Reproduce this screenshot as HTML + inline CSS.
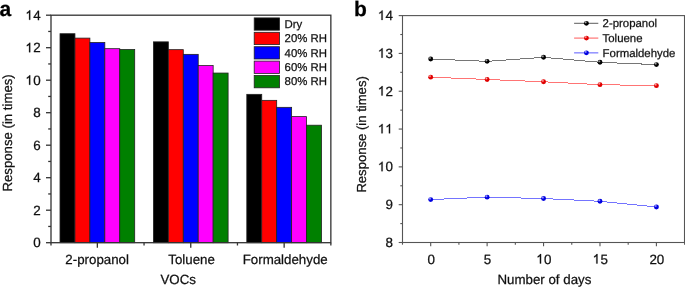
<!DOCTYPE html><html><head><meta charset="utf-8"><style>html,body{margin:0;padding:0;background:#fff;}svg{display:block;will-change:transform;}text{font-family:"Liberation Sans", sans-serif;fill:#111;stroke:#111;stroke-width:0.25px;text-rendering:geometricPrecision;}</style></head><body>
<svg width="685" height="287" viewBox="0 0 685 287">
<defs>
<radialGradient id="gk" cx="0.35" cy="0.3" r="0.7"><stop offset="0" stop-color="#bbbbbb"/><stop offset="0.45" stop-color="#000000"/><stop offset="1" stop-color="#000000"/></radialGradient>
<radialGradient id="gr" cx="0.35" cy="0.3" r="0.7"><stop offset="0" stop-color="#ffbbbb"/><stop offset="0.45" stop-color="#e00000"/><stop offset="1" stop-color="#e00000"/></radialGradient>
<radialGradient id="gb" cx="0.35" cy="0.3" r="0.7"><stop offset="0" stop-color="#bbbbff"/><stop offset="0.45" stop-color="#0000e0"/><stop offset="1" stop-color="#0000e0"/></radialGradient>
</defs>
<rect width="685" height="287" fill="#fff"/>
<rect x="60.00" y="33.72" width="14.94" height="208.97" fill="#000000" stroke="#222" stroke-width="0.8"/>
<rect x="74.94" y="38.11" width="14.94" height="204.59" fill="#ff0000" stroke="#222" stroke-width="0.8"/>
<rect x="89.88" y="42.50" width="14.94" height="200.20" fill="#0000ff" stroke="#222" stroke-width="0.8"/>
<rect x="104.82" y="48.67" width="14.94" height="194.03" fill="#ff00ff" stroke="#222" stroke-width="0.8"/>
<rect x="119.76" y="49.49" width="14.94" height="193.21" fill="#008000" stroke="#222" stroke-width="0.8"/>
<rect x="153.40" y="41.85" width="14.94" height="200.85" fill="#000000" stroke="#222" stroke-width="0.8"/>
<rect x="168.34" y="49.65" width="14.94" height="193.05" fill="#ff0000" stroke="#222" stroke-width="0.8"/>
<rect x="183.28" y="54.36" width="14.94" height="188.34" fill="#0000ff" stroke="#222" stroke-width="0.8"/>
<rect x="198.22" y="65.57" width="14.94" height="177.12" fill="#ff00ff" stroke="#222" stroke-width="0.8"/>
<rect x="213.16" y="73.05" width="14.94" height="169.65" fill="#008000" stroke="#222" stroke-width="0.8"/>
<rect x="246.80" y="94.34" width="14.94" height="148.36" fill="#000000" stroke="#222" stroke-width="0.8"/>
<rect x="261.74" y="100.35" width="14.94" height="142.35" fill="#ff0000" stroke="#222" stroke-width="0.8"/>
<rect x="276.68" y="107.34" width="14.94" height="135.36" fill="#0000ff" stroke="#222" stroke-width="0.8"/>
<rect x="291.62" y="116.60" width="14.94" height="126.10" fill="#ff00ff" stroke="#222" stroke-width="0.8"/>
<rect x="306.56" y="125.21" width="14.94" height="117.49" fill="#008000" stroke="#222" stroke-width="0.8"/>
<rect x="51.00" y="15.20" width="279.85" height="227.50" fill="none" stroke="#333333" stroke-width="1.30"/>
<line x1="46.00" y1="242.70" x2="51.00" y2="242.70" stroke="#333333" stroke-width="1.30"/>
<text x="33.15" y="247.25" font-size="13.40">0</text>
<line x1="48.20" y1="226.45" x2="51.00" y2="226.45" stroke="#333333" stroke-width="1.30"/>
<line x1="46.00" y1="210.20" x2="51.00" y2="210.20" stroke="#333333" stroke-width="1.30"/>
<text x="33.15" y="214.75" font-size="13.40">2</text>
<line x1="48.20" y1="193.95" x2="51.00" y2="193.95" stroke="#333333" stroke-width="1.30"/>
<line x1="46.00" y1="177.70" x2="51.00" y2="177.70" stroke="#333333" stroke-width="1.30"/>
<text x="33.15" y="182.25" font-size="13.40">4</text>
<line x1="48.20" y1="161.45" x2="51.00" y2="161.45" stroke="#333333" stroke-width="1.30"/>
<line x1="46.00" y1="145.20" x2="51.00" y2="145.20" stroke="#333333" stroke-width="1.30"/>
<text x="33.15" y="149.75" font-size="13.40">6</text>
<line x1="48.20" y1="128.95" x2="51.00" y2="128.95" stroke="#333333" stroke-width="1.30"/>
<line x1="46.00" y1="112.70" x2="51.00" y2="112.70" stroke="#333333" stroke-width="1.30"/>
<text x="33.15" y="117.25" font-size="13.40">8</text>
<line x1="48.20" y1="96.45" x2="51.00" y2="96.45" stroke="#333333" stroke-width="1.30"/>
<line x1="46.00" y1="80.20" x2="51.00" y2="80.20" stroke="#333333" stroke-width="1.30"/>
<path d="M.338 0L.25 0L.25-.55C.215-.515.14-.475.085-.455L.085-.54C.17-.575.245-.635.275-.703L.338-.703Z" transform="translate(25.70,84.75) scale(13.400)" fill="#111" stroke="#111" stroke-width="0.0187"/><text x="33.15" y="84.75" font-size="13.40">0</text>
<line x1="48.20" y1="63.95" x2="51.00" y2="63.95" stroke="#333333" stroke-width="1.30"/>
<line x1="46.00" y1="47.70" x2="51.00" y2="47.70" stroke="#333333" stroke-width="1.30"/>
<path d="M.338 0L.25 0L.25-.55C.215-.515.14-.475.085-.455L.085-.54C.17-.575.245-.635.275-.703L.338-.703Z" transform="translate(25.70,52.25) scale(13.400)" fill="#111" stroke="#111" stroke-width="0.0187"/><text x="33.15" y="52.25" font-size="13.40">2</text>
<line x1="48.20" y1="31.45" x2="51.00" y2="31.45" stroke="#333333" stroke-width="1.30"/>
<line x1="46.00" y1="15.20" x2="51.00" y2="15.20" stroke="#333333" stroke-width="1.30"/>
<path d="M.338 0L.25 0L.25-.55C.215-.515.14-.475.085-.455L.085-.54C.17-.575.245-.635.275-.703L.338-.703Z" transform="translate(25.70,19.75) scale(13.400)" fill="#111" stroke="#111" stroke-width="0.0187"/><text x="33.15" y="19.75" font-size="13.40">4</text>
<line x1="51.00" y1="242.70" x2="51.00" y2="245.50" stroke="#333333" stroke-width="1.30"/>
<line x1="144.05" y1="242.70" x2="144.05" y2="245.50" stroke="#333333" stroke-width="1.30"/>
<line x1="237.45" y1="242.70" x2="237.45" y2="245.50" stroke="#333333" stroke-width="1.30"/>
<line x1="330.85" y1="242.70" x2="330.85" y2="245.50" stroke="#333333" stroke-width="1.30"/>
<line x1="97.35" y1="242.70" x2="97.35" y2="247.70" stroke="#333333" stroke-width="1.30"/>
<text x="97.15" y="263.5" font-size="13.3" text-anchor="middle">2-propanol</text>
<line x1="190.75" y1="242.70" x2="190.75" y2="247.70" stroke="#333333" stroke-width="1.30"/>
<text x="191.60" y="263.5" font-size="13.3" text-anchor="middle">Toluene</text>
<line x1="284.15" y1="242.70" x2="284.15" y2="247.70" stroke="#333333" stroke-width="1.30"/>
<text x="285.20" y="263.5" font-size="13.3" text-anchor="middle">Formaldehyde</text>
<text x="178.2" y="283.6" font-size="13.3" text-anchor="middle">VOCs</text>
<text transform="translate(12.0,132.9) rotate(-90)" font-size="13.2" text-anchor="middle">Response (in times)</text>
<rect x="254.2" y="17.90" width="25.3" height="12.3" fill="#000000" stroke="#222" stroke-width="0.8"/>
<text x="284.6" y="27.75" font-size="11.4">Dry</text>
<rect x="254.2" y="32.30" width="25.3" height="12.3" fill="#ff0000" stroke="#222" stroke-width="0.8"/>
<text x="284.6" y="42.15" font-size="11.4">20% RH</text>
<rect x="254.2" y="46.70" width="25.3" height="12.3" fill="#0000ff" stroke="#222" stroke-width="0.8"/>
<text x="284.6" y="56.55" font-size="11.4">40% RH</text>
<rect x="254.2" y="61.10" width="25.3" height="12.3" fill="#ff00ff" stroke="#222" stroke-width="0.8"/>
<text x="284.6" y="70.95" font-size="11.4">60% RH</text>
<rect x="254.2" y="75.50" width="25.3" height="12.3" fill="#008000" stroke="#222" stroke-width="0.8"/>
<text x="284.6" y="85.35" font-size="11.4">80% RH</text>
<text x="-0.6" y="15.7" font-size="21" font-weight="bold" style="fill:#000">a</text>
<rect x="402.50" y="15.60" width="282.00" height="226.90" fill="none" stroke="#555555" stroke-width="1.10"/>
<line x1="398.70" y1="242.50" x2="402.50" y2="242.50" stroke="#555555" stroke-width="1.10"/>
<text x="385.55" y="246.80" font-size="13.40">8</text>
<line x1="400.30" y1="223.59" x2="402.50" y2="223.59" stroke="#555555" stroke-width="1.10"/>
<line x1="398.70" y1="204.68" x2="402.50" y2="204.68" stroke="#555555" stroke-width="1.10"/>
<text x="385.55" y="208.98" font-size="13.40">9</text>
<line x1="400.30" y1="185.78" x2="402.50" y2="185.78" stroke="#555555" stroke-width="1.10"/>
<line x1="398.70" y1="166.87" x2="402.50" y2="166.87" stroke="#555555" stroke-width="1.10"/>
<path d="M.338 0L.25 0L.25-.55C.215-.515.14-.475.085-.455L.085-.54C.17-.575.245-.635.275-.703L.338-.703Z" transform="translate(378.10,171.17) scale(13.400)" fill="#111" stroke="#111" stroke-width="0.0187"/><text x="385.55" y="171.17" font-size="13.40">0</text>
<line x1="400.30" y1="147.96" x2="402.50" y2="147.96" stroke="#555555" stroke-width="1.10"/>
<line x1="398.70" y1="129.05" x2="402.50" y2="129.05" stroke="#555555" stroke-width="1.10"/>
<path d="M.338 0L.25 0L.25-.55C.215-.515.14-.475.085-.455L.085-.54C.17-.575.245-.635.275-.703L.338-.703Z" transform="translate(378.10,133.35) scale(13.400)" fill="#111" stroke="#111" stroke-width="0.0187"/><path d="M.338 0L.25 0L.25-.55C.215-.515.14-.475.085-.455L.085-.54C.17-.575.245-.635.275-.703L.338-.703Z" transform="translate(385.55,133.35) scale(13.400)" fill="#111" stroke="#111" stroke-width="0.0187"/>
<line x1="400.30" y1="110.14" x2="402.50" y2="110.14" stroke="#555555" stroke-width="1.10"/>
<line x1="398.70" y1="91.23" x2="402.50" y2="91.23" stroke="#555555" stroke-width="1.10"/>
<path d="M.338 0L.25 0L.25-.55C.215-.515.14-.475.085-.455L.085-.54C.17-.575.245-.635.275-.703L.338-.703Z" transform="translate(378.10,95.53) scale(13.400)" fill="#111" stroke="#111" stroke-width="0.0187"/><text x="385.55" y="95.53" font-size="13.40">2</text>
<line x1="400.30" y1="72.32" x2="402.50" y2="72.32" stroke="#555555" stroke-width="1.10"/>
<line x1="398.70" y1="53.42" x2="402.50" y2="53.42" stroke="#555555" stroke-width="1.10"/>
<path d="M.338 0L.25 0L.25-.55C.215-.515.14-.475.085-.455L.085-.54C.17-.575.245-.635.275-.703L.338-.703Z" transform="translate(378.10,57.72) scale(13.400)" fill="#111" stroke="#111" stroke-width="0.0187"/><text x="385.55" y="57.72" font-size="13.40">3</text>
<line x1="400.30" y1="34.51" x2="402.50" y2="34.51" stroke="#555555" stroke-width="1.10"/>
<line x1="398.70" y1="15.60" x2="402.50" y2="15.60" stroke="#555555" stroke-width="1.10"/>
<path d="M.338 0L.25 0L.25-.55C.215-.515.14-.475.085-.455L.085-.54C.17-.575.245-.635.275-.703L.338-.703Z" transform="translate(378.10,19.90) scale(13.400)" fill="#111" stroke="#111" stroke-width="0.0187"/><text x="385.55" y="19.90" font-size="13.40">4</text>
<line x1="402.49" y1="242.50" x2="402.49" y2="244.70" stroke="#555555" stroke-width="1.10"/>
<line x1="430.70" y1="242.50" x2="430.70" y2="246.30" stroke="#555555" stroke-width="1.10"/>
<text x="427.42" y="263.50" font-size="13.40">0</text>
<line x1="458.91" y1="242.50" x2="458.91" y2="244.70" stroke="#555555" stroke-width="1.10"/>
<line x1="487.12" y1="242.50" x2="487.12" y2="246.30" stroke="#555555" stroke-width="1.10"/>
<text x="483.85" y="263.50" font-size="13.40">5</text>
<line x1="515.34" y1="242.50" x2="515.34" y2="244.70" stroke="#555555" stroke-width="1.10"/>
<line x1="543.55" y1="242.50" x2="543.55" y2="246.30" stroke="#555555" stroke-width="1.10"/>
<path d="M.338 0L.25 0L.25-.55C.215-.515.14-.475.085-.455L.085-.54C.17-.575.245-.635.275-.703L.338-.703Z" transform="translate(536.55,263.50) scale(13.400)" fill="#111" stroke="#111" stroke-width="0.0187"/><text x="544.00" y="263.50" font-size="13.40">0</text>
<line x1="571.76" y1="242.50" x2="571.76" y2="244.70" stroke="#555555" stroke-width="1.10"/>
<line x1="599.98" y1="242.50" x2="599.98" y2="246.30" stroke="#555555" stroke-width="1.10"/>
<path d="M.338 0L.25 0L.25-.55C.215-.515.14-.475.085-.455L.085-.54C.17-.575.245-.635.275-.703L.338-.703Z" transform="translate(592.97,263.50) scale(13.400)" fill="#111" stroke="#111" stroke-width="0.0187"/><text x="600.43" y="263.50" font-size="13.40">5</text>
<line x1="628.19" y1="242.50" x2="628.19" y2="244.70" stroke="#555555" stroke-width="1.10"/>
<line x1="656.40" y1="242.50" x2="656.40" y2="246.30" stroke="#555555" stroke-width="1.10"/>
<text x="649.40" y="263.50" font-size="13.40">2</text><text x="656.85" y="263.50" font-size="13.40">0</text>
<line x1="684.61" y1="242.50" x2="684.61" y2="244.70" stroke="#555555" stroke-width="1.10"/>
<text x="544.4" y="283.6" font-size="13.3" text-anchor="middle">Number of days</text>
<text transform="translate(365.5,134.4) rotate(-90)" font-size="13.1" text-anchor="middle">Response (in times)</text>
<text x="354" y="15.5" font-size="21" font-weight="bold" style="fill:#000">b</text>
<polyline points="430.70,59.01 487.12,61.36 543.55,57.31 599.98,62.30 656.40,64.61" fill="none" stroke="#767676" stroke-width="1" shape-rendering="crispEdges"/>
<polyline points="430.70,77.17 487.12,79.47 543.55,81.78 599.98,84.65 656.40,85.67" fill="none" stroke="#ff7474" stroke-width="1" shape-rendering="crispEdges"/>
<polyline points="430.70,199.58 487.12,197.16 543.55,198.56 599.98,201.28 656.40,206.95" fill="none" stroke="#7474ff" stroke-width="1" shape-rendering="crispEdges"/>
<circle cx="430.70" cy="59.01" r="2.45" fill="url(#gk)"/>
<circle cx="487.12" cy="61.36" r="2.45" fill="url(#gk)"/>
<circle cx="543.55" cy="57.31" r="2.45" fill="url(#gk)"/>
<circle cx="599.98" cy="62.30" r="2.45" fill="url(#gk)"/>
<circle cx="656.40" cy="64.61" r="2.45" fill="url(#gk)"/>
<circle cx="430.70" cy="77.17" r="2.45" fill="url(#gr)"/>
<circle cx="487.12" cy="79.47" r="2.45" fill="url(#gr)"/>
<circle cx="543.55" cy="81.78" r="2.45" fill="url(#gr)"/>
<circle cx="599.98" cy="84.65" r="2.45" fill="url(#gr)"/>
<circle cx="656.40" cy="85.67" r="2.45" fill="url(#gr)"/>
<circle cx="430.70" cy="199.58" r="2.45" fill="url(#gb)"/>
<circle cx="487.12" cy="197.16" r="2.45" fill="url(#gb)"/>
<circle cx="543.55" cy="198.56" r="2.45" fill="url(#gb)"/>
<circle cx="599.98" cy="201.28" r="2.45" fill="url(#gb)"/>
<circle cx="656.40" cy="206.95" r="2.45" fill="url(#gb)"/>
<line x1="574.1" y1="23.35" x2="598.3" y2="23.35" stroke="#767676" stroke-width="1.2"/>
<circle cx="586.4" cy="23.35" r="2.45" fill="url(#gk)"/>
<text x="602.6" y="27.00" font-size="11.4">2-propanol</text>
<line x1="574.1" y1="38.10" x2="598.3" y2="38.10" stroke="#ff7474" stroke-width="1.2"/>
<circle cx="586.4" cy="38.10" r="2.45" fill="url(#gr)"/>
<text x="602.6" y="41.75" font-size="11.4">Toluene</text>
<line x1="574.1" y1="52.85" x2="598.3" y2="52.85" stroke="#7474ff" stroke-width="1.2"/>
<circle cx="586.4" cy="52.85" r="2.45" fill="url(#gb)"/>
<text x="602.6" y="56.50" font-size="11.4">Formaldehyde</text>
</svg></body></html>
